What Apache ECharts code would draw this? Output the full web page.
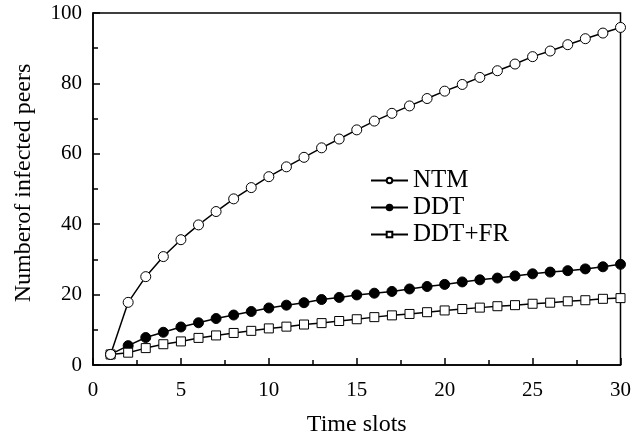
<!DOCTYPE html>
<html><head><meta charset="utf-8">
<script src="https://cdn.jsdelivr.net/npm/echarts@6/dist/echarts.min.js"></script>
<style>html,body{margin:0;padding:0;background:#fff}#c{width:634px;height:442px}</style>
</head><body><div id="c"></div>
<script>
const timeSlots = [1,2,3,4,5,6,7,8,9,10,11,12,13,14,15,16,17,18,19,20,21,22,23,24,25,26,27,28,29,30];
const ntm = [3,17.8,25.1,30.8,35.6,39.8,43.6,47.2,50.4,53.5,56.3,59.0,61.7,64.2,66.8,69.3,71.5,73.6,75.7,77.8,79.7,81.7,83.6,85.5,87.6,89.2,91.0,92.7,94.3,95.9];
const ddt = [3,5.5,7.8,9.3,10.8,12.0,13.2,14.2,15.2,16.2,17.0,17.7,18.6,19.2,19.9,20.4,20.9,21.6,22.3,22.9,23.6,24.2,24.7,25.3,25.9,26.4,26.8,27.3,27.9,28.6];
const ddtfr = [3,3.5,4.8,5.9,6.7,7.7,8.4,9.1,9.7,10.4,10.9,11.5,11.9,12.5,13.0,13.6,14.1,14.5,15.0,15.5,15.9,16.3,16.7,17.0,17.4,17.7,18.1,18.4,18.8,19.0];
const seriesNames = ['NTM','DDT','DDT+FR'];
const xTicks = [0,5,10,15,20,25,30];
const yTicks = [0,20,40,60,80,100];

const font = 'Liberation Serif, Times New Roman, serif';
function pairs(arr){ return timeSlots.map((t,i)=>[t,arr[i]]); }
function mk(name, data, symbol, fill, size){
  return {
    name, type:'line', data:pairs(data), symbol, symbolSize:size,
    lineStyle:{color:'#000', width:1.5},
    itemStyle:{color:fill, borderColor:'#000', borderWidth:1},
    emphasis:{disabled:true}, animation:false, z: name==='NTM'?3:2
  };
}
const chart = echarts.init(document.getElementById('c'), null, {renderer:'canvas'});
chart.setOption({
  animation:false,
  grid:{left:93, right:8, top:13, bottom:77, show:true, borderColor:'#000', borderWidth:1.5, backgroundColor:'transparent'},
  legend:{
    orient:'vertical', left:370, top:168, itemGap:2, itemWidth:37, itemHeight:7, padding:0,
    textStyle:{fontFamily:font, fontSize:25, lineHeight:25, color:'#000'},
    data:seriesNames
  },
  xAxis:{
    type:'value', min:0, max:30, interval:5,
    name:'Time slots', nameLocation:'middle', nameGap:48,
    nameTextStyle:{fontFamily:font, fontSize:24, color:'#000'},
    axisLine:{lineStyle:{color:'#000', width:1.5}},
    axisTick:{inside:true, length:7, lineStyle:{color:'#000', width:1.5}},
    minorTick:{show:true, splitNumber:2, length:5, lineStyle:{color:'#000', width:1.5}},
    axisLabel:{fontFamily:font, fontSize:21, color:'#000', margin:15, formatter:v=>xTicks.includes(v)?String(v):''},
    splitLine:{show:false}
  },
  yAxis:{
    type:'value', min:0, max:100, interval:20,
    name:'Numberof infected peers', nameLocation:'middle', nameGap:57,
    nameTextStyle:{fontFamily:font, fontSize:24, color:'#000', padding:[0,0,0,12]},
    axisLine:{lineStyle:{color:'#000', width:1.5}},
    axisTick:{inside:true, length:7, lineStyle:{color:'#000', width:1.5}},
    minorTick:{show:true, splitNumber:2, length:5, lineStyle:{color:'#000', width:1.5}},
    axisLabel:{fontFamily:font, fontSize:21, color:'#000', margin:11, formatter:v=>yTicks.includes(v)?String(v):''},
    splitLine:{show:false}
  },
  series:[
    mk('NTM', ntm, 'circle', '#fff', 10),
    mk('DDT', ddt, 'circle', '#000', 10),
    mk('DDT+FR', ddtfr, 'rect', '#fff', 9)
  ]
});
</script></body></html>
